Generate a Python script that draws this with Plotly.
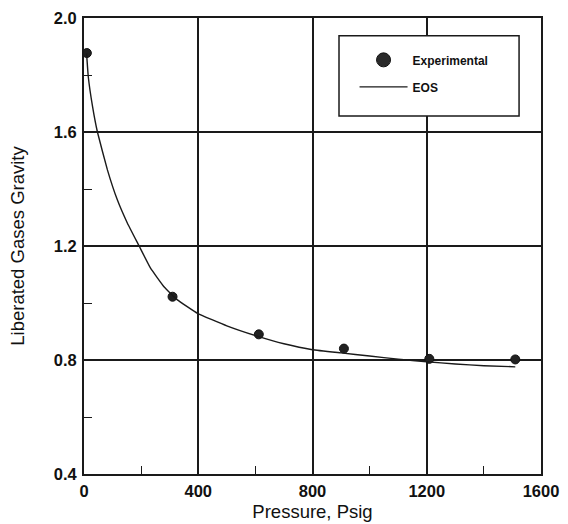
import plotly.graph_objects as go

# Measured liberated gas gravity
exp_pressure = [10, 310, 612, 910, 1209, 1510]
exp_gravity = [1.877, 1.022, 0.890, 0.840, 0.804, 0.802]

# Equation-of-state prediction
eos_pressure = [9, 15, 30, 47, 82, 117, 152, 193, 233, 280, 327, 397, 500,
                612, 700, 800, 900, 1000, 1100, 1200, 1300, 1400, 1510]
eos_gravity = [1.876, 1.794, 1.689, 1.600, 1.467, 1.361, 1.280, 1.200, 1.122,
               1.057, 1.011, 0.964, 0.920, 0.882, 0.857, 0.836, 0.825, 0.814,
               0.803, 0.794, 0.786, 0.780, 0.776]

x_ticks = [0, 400, 800, 1200, 1600]
y_ticks = [0.4, 0.8, 1.2, 1.6, 2.0]
y_labels = ["0.4", "0.8", "1.2", "1.6", "2.0"]

INK = "#1a1a1a"
FONT = "Liberation Sans, Arial, Helvetica, sans-serif"

fig = go.Figure()
fig.add_trace(go.Scatter(
    x=exp_pressure, y=exp_gravity, mode="markers", name="Experimental",
    marker=dict(size=9, color="#222222", line=dict(width=1, color="#111111")),
    showlegend=False,
))
fig.add_trace(go.Scatter(
    x=eos_pressure, y=eos_gravity, mode="lines", name="EOS",
    line=dict(color=INK, width=1.4, shape="spline", smoothing=0.3),
    showlegend=False,
))

# Legend entries (larger key symbol than the plotted markers)
fig.add_trace(go.Scatter(
    x=[None], y=[None], mode="markers", name="Experimental",
    marker=dict(size=14, color="#2a2a2a", line=dict(width=1, color="#111111")),
    legendgroup="a",
))
fig.add_trace(go.Scatter(
    x=[None], y=[None], mode="lines", name="EOS",
    line=dict(color=INK, width=1.2),
    legendgroup="b",
))

axis_common = dict(
    showgrid=True, gridcolor=INK, gridwidth=1.5,
    showline=True, linecolor=INK, linewidth=2, mirror=True,
    zeroline=False, ticks="", automargin=False,
    tickfont=dict(family=FONT, size=16.5, color="#111111", weight="bold"),
    title_font=dict(family=FONT, size=18.5, color="#111111"),
)

fig.update_xaxes(
    range=[0, 1600], tickvals=x_ticks, ticktext=[str(v) for v in x_ticks],
    title_text="Pressure, Psig", title_standoff=6,
    minor=dict(ticks="inside", ticklen=8, tickcolor=INK, tickwidth=1.2,
               tick0=200, dtick=400, showgrid=False),
    ticklabelstandoff=1,
    **axis_common,
)
fig.update_yaxes(
    range=[0.4, 2.0], tickvals=y_ticks, ticktext=y_labels,
    title_text="Liberated Gases Gravity", title_standoff=24,
    minor=dict(ticks="inside", ticklen=8, tickcolor=INK, tickwidth=1.2,
               tick0=0.6, dtick=0.4, showgrid=False),
    ticklabelstandoff=2,
    **axis_common,
)

# Legend frame
fig.add_shape(type="rect", xref="paper", yref="paper",
              x0=0.558, x1=0.952, y0=0.785, y1=0.961,
              line=dict(color=INK, width=1.5), fillcolor="white", layer="above")

fig.update_layout(
    width=568, height=524,
    margin=dict(l=84, r=27, t=18, b=50),
    paper_bgcolor="white", plot_bgcolor="white",
    showlegend=True,
    legend=dict(
        x=0.592, y=0.94, xanchor="left", yanchor="top",
        bgcolor="rgba(0,0,0,0)", borderwidth=0,
        font=dict(family=FONT, size=12, color="#111111", weight="bold"),
        itemsizing="trace", itemwidth=48, tracegroupgap=8,
        traceorder="grouped",
    ),
)

fig.write_html("out.html")
